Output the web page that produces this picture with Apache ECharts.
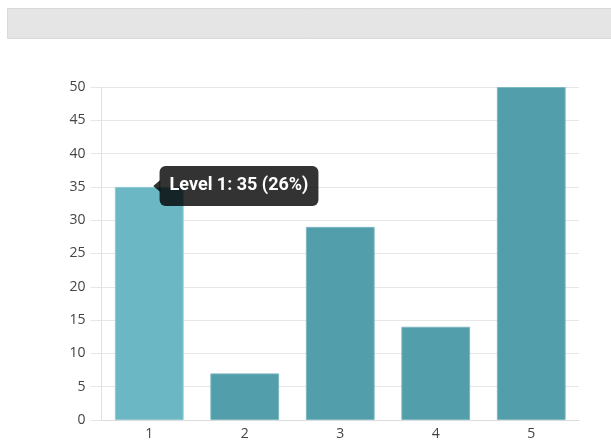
<!DOCTYPE html>
<html>
<head>
<meta charset="utf-8">
<style>
  html, body { margin: 0; padding: 0; background: #fff; }
  #chart { width: 611px; height: 445px; }
</style>
<script src="https://cdn.jsdelivr.net/npm/echarts@6/dist/echarts.min.js"></script>
</head>
<body>
<div id="chart"></div>
<script>
// Level counts
const categories = ['1', '2', '3', '4', '5'];
const counts = [35, 7, 29, 14, 50];
const yTicks = [0, 5, 10, 15, 20, 25, 30, 35, 40, 45, 50];
const highlighted = 0; // the hovered level

const total = counts.reduce((a, b) => a + b, 0);
const FONT = '"Open Sans", "Segoe UI", sans-serif';
const TIP_FONT = 'Roboto, "Segoe UI", sans-serif';
const TIP_BG = 'rgba(0,0,0,0.8)';

const barData = counts.map((v, i) => {
  const item = { value: v };
  if (i === highlighted) {
    item.itemStyle = { color: '#6bb8c4', borderColor: '#8fcad3' };
    item.label = {
      show: true,
      position: ['65%', -1],
      align: 'left',
      verticalAlign: 'middle',
      formatter: () => 'Level ' + categories[i] + ': ' + v + ' (' + Math.round(v / total * 100) + '%)',
      color: '#fff',
      fontFamily: TIP_FONT,
      fontWeight: 'bold',
      fontSize: 18,
      lineHeight: 20,
      backgroundColor: TIP_BG,
      borderRadius: 6,
      padding: [10, 10, 10, 10]
    };
  }
  return item;
});

const chart = echarts.init(document.getElementById('chart'), null, { renderer: 'canvas' });
chart.setOption({
  animation: false,
  graphic: [{
    type: 'rect',
    left: 7, top: 8,
    shape: { width: 610, height: 30 },
    style: { fill: '#e5e5e5', stroke: '#d9d9d9', lineWidth: 1 },
    z: -1
  }],
  grid: { left: 101.5, right: 32, top: 87, bottom: 25, containLabel: false },
  xAxis: {
    type: 'category',
    data: categories,
    axisLine: { show: true, lineStyle: { color: '#dcdcdc', width: 1 } },
    axisTick: { show: false },
    axisLabel: { color: '#444', fontFamily: FONT, fontSize: 14, margin: 7 }
  },
  yAxis: {
    type: 'value',
    min: yTicks[0],
    max: yTicks[yTicks.length - 1],
    interval: yTicks[1] - yTicks[0],
    axisLine: { show: true, lineStyle: { color: '#e0e0e0', width: 1 } },
    axisTick: { show: true, length: 11, lineStyle: { color: '#e6e6e6' } },
    splitLine: { show: true, lineStyle: { color: '#e6e6e6', width: 1 } },
    axisLabel: { color: '#444', fontFamily: FONT, fontSize: 14, margin: 16 }
  },
  series: [{
    type: 'bar',
    data: barData,
    barWidth: '72%',
    itemStyle: { color: '#529fab', borderColor: '#7db7c0', borderWidth: 1 },
    markPoint: {
      silent: true,
      symbol: 'triangle',
      symbolSize: [12, 7],
      symbolRotate: 90,
      symbolOffset: [7.5, -1],
      itemStyle: { color: TIP_BG },
      label: { show: false },
      data: [{ coord: [categories[highlighted], counts[highlighted]] }]
    }
  }]
});
</script>
</body>
</html>
